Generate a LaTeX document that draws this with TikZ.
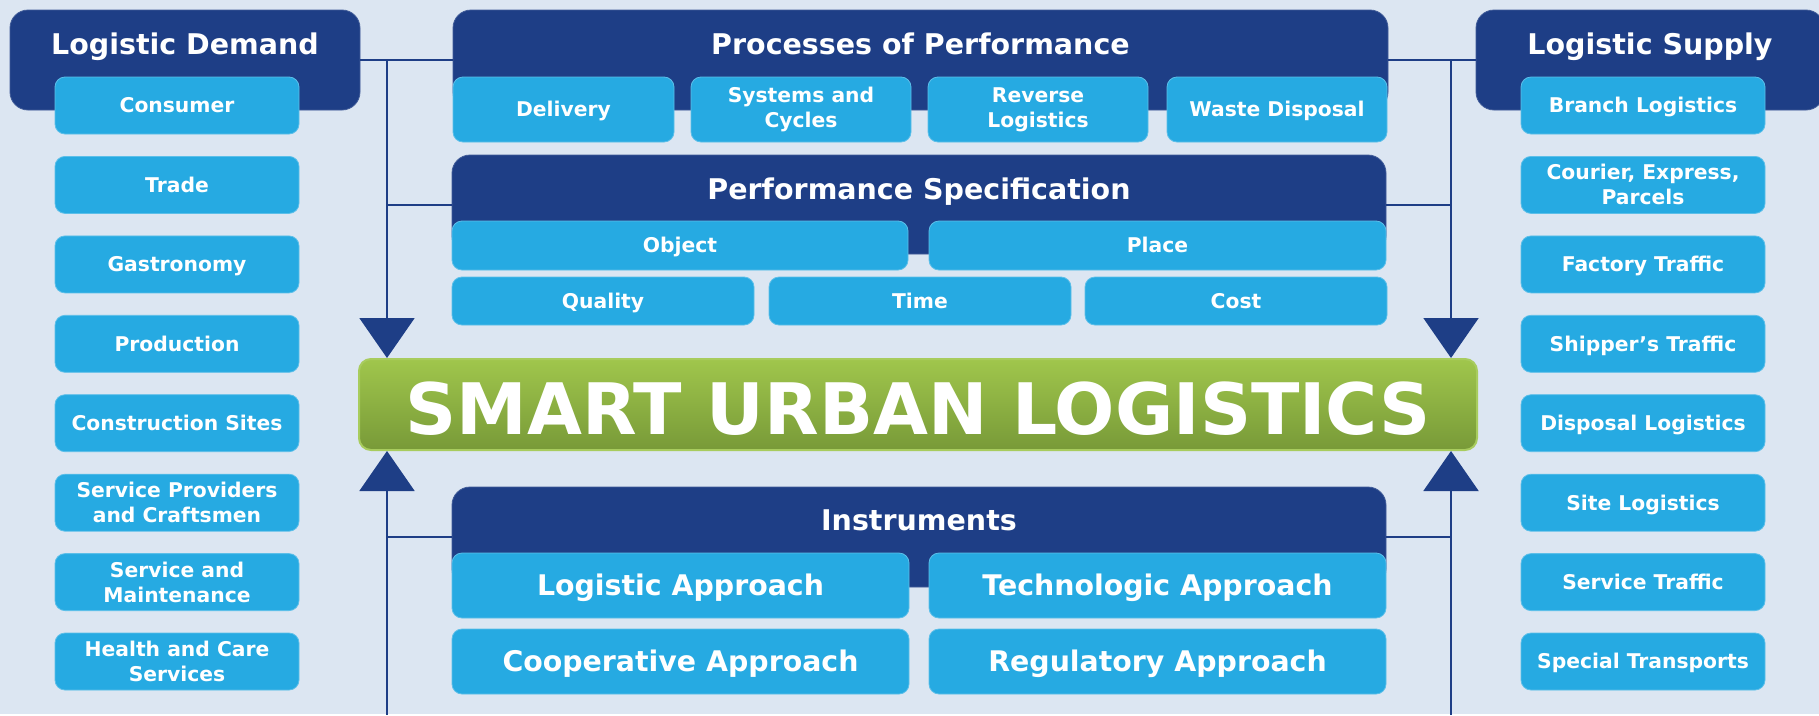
\documentclass[tikz,border=0pt]{standalone}
\usepackage{fontspec}
\setmainfont{DejaVu Sans}
\usetikzlibrary{arrows.meta}
\definecolor{navy}{RGB}{30,62,134}
\definecolor{lblue}{RGB}{38,170,226}
\definecolor{bg}{RGB}{220,230,242}
\definecolor{gtop}{RGB}{160,198,76}
\definecolor{gbot}{RGB}{120,154,56}
\definecolor{gedge}{RGB}{168,204,94}
\begin{document}
\begin{tikzpicture}[x=1pt,y=-1pt,
  darkbox/.style={fill=navy,draw=navy!85!white,line width=0.8pt,rounded corners=18pt,inner sep=0pt},
  lbox/.style={fill=lblue,draw=lblue!75!white,line width=0.8pt,rounded corners=10pt,inner sep=0pt,text=white,align=center,font=\fontsize{20.3}{25}\selectfont\bfseries},
  one/.style={text height=14.8pt,text depth=0pt},
  bigbox/.style={lbox,font=\fontsize{28.4}{34}\selectfont\bfseries,text height=20.7pt,text depth=0pt},
  ttl/.style={text=white,inner sep=0pt,anchor=base,font=\fontsize{28.5}{34}\selectfont\bfseries},
  conn/.style={draw=navy,line width=2pt},
  tip/.style={-{Triangle[width=55pt,length=40pt]}},
  col/.style={lbox,minimum width=244pt,minimum height=57pt}
]
\useasboundingbox (0,0) rectangle (1819,715);
\fill[white] (0,0) rectangle (1819,715);
\fill[bg] (0,0) rectangle (1819,714);

% dark boxes
\node[darkbox,minimum width=350pt,minimum height=100pt] (dem) at (185,60) {};
\node[ttl] (demt) at (185,54) {Logistic Demand};
\node[darkbox,minimum width=348pt,minimum height=100pt] (sup) at (1650,60) {};
\node[ttl] (supt) at (1650,54) {Logistic Supply};
\node[darkbox,minimum width=935pt,minimum height=100pt] (proc) at (920.5,60) {};
\node[ttl] (proct) at (920.5,54) {Processes of Performance};
\node[darkbox,minimum width=934pt,minimum height=99pt] (spec) at (919,204.5) {};
\node[ttl] (spect) at (919,199) {Performance Specification};
\node[darkbox,minimum width=934pt,minimum height=100pt] (instr) at (919,537) {};
\node[ttl] (instrt) at (919,530) {Instruments};

% connector end points
\coordinate (jLtop) at (387,60);
\coordinate (jRtop) at (1451,60);
\coordinate (jLbot) at (387,715);
\coordinate (jRbot) at (1451,715);

% green bar
\node[draw=gedge,line width=2pt,rounded corners=12pt,top color=gtop,bottom color=gbot,minimum width=1118pt,minimum height=91pt,inner sep=0pt] (bar) at (918,404.5) {};
\node[text=white,inner sep=0pt,anchor=base,font=\fontsize{71}{80}\selectfont\bfseries] (bartxt) at (918,434) {SMART URBAN LOGISTICS};

\draw[conn] (dem.east) -- (proc.west);
\draw[conn] (proc.east) -- (sup.west);
\draw[conn] (spec.west) -- (spec.west -| jLtop);
\draw[conn] (spec.east) -- (spec.east -| jRtop);
\draw[conn] (instr.west) -- (instr.west -| jLbot);
\draw[conn] (instr.east) -- (instr.east -| jRbot);
\draw[conn,tip,fill=navy] (jLtop) -- (bar.north -| jLtop);
\draw[conn,tip,fill=navy] (jRtop) -- (bar.north -| jRtop);
\draw[conn,tip,fill=navy] (jLbot) -- (bar.south -| jLbot);
\draw[conn,tip,fill=navy] (jRbot) -- (bar.south -| jRbot);

% processes
\node[lbox,one,minimum width=221pt,minimum height=65pt] (deliv) at (563.5,109.5) {Delivery};
\node[lbox,minimum width=220pt,minimum height=65pt] (sys) at (801,109.5) {Systems and\\Cycles};
\node[lbox,minimum width=220pt,minimum height=65pt] (rev) at (1038,109.5) {Reverse\\Logistics};
\node[lbox,one,minimum width=220pt,minimum height=65pt] (waste) at (1277,109.5) {Waste Disposal};

% specification
\node[lbox,one,minimum width=456pt,minimum height=49pt] (obj) at (680,245.5) {Object};
\node[lbox,one,minimum width=457pt,minimum height=49pt] (place) at (1157.5,245.5) {Place};
\node[lbox,one,minimum width=302pt,minimum height=48pt] (qual) at (603,301) {Quality};
\node[lbox,one,minimum width=302pt,minimum height=48pt] (time) at (920,301) {Time};
\node[lbox,one,minimum width=302pt,minimum height=48pt] (cost) at (1236,301) {Cost};

% instruments
\node[bigbox,minimum width=457pt,minimum height=65pt] (logap) at (680.5,585.5) {Logistic Approach};
\node[bigbox,minimum width=457pt,minimum height=65pt] (techap) at (1157.5,585.5) {Technologic Approach};
\node[bigbox,minimum width=457pt,minimum height=65pt] (coopap) at (680.5,661.5) {Cooperative Approach};
\node[bigbox,minimum width=457pt,minimum height=65pt] (regap) at (1157.5,661.5) {Regulatory Approach};

% left column
\node[col,one] (L0) at (177,105.5) {Consumer};
\node[col,one] (L1) at (177,184.9) {Trade};
\node[col,one] (L2) at (177,264.4) {Gastronomy};
\node[col,one] (L3) at (177,343.8) {Production};
\node[col,one] (L4) at (177,423.2) {Construction Sites};
\node[col] (L5) at (177,502.7) {Service Providers\\and Craftsmen};
\node[col] (L6) at (177,582.1) {Service and\\Maintenance};
\node[col] (L7) at (177,661.5) {Health and Care\\Services};

% right column
\node[col,one] (R0) at (1643,105.5) {Branch Logistics};
\node[col] (R1) at (1643,184.9) {Courier, Express,\\Parcels};
\node[col,one] (R2) at (1643,264.4) {Factory Traffic};
\node[col,one] (R3) at (1643,343.8) {Shipper’s Traffic};
\node[col,one] (R4) at (1643,423.2) {Disposal Logistics};
\node[col,one] (R5) at (1643,502.7) {Site Logistics};
\node[col,one] (R6) at (1643,582.1) {Service Traffic};
\node[col,one] (R7) at (1643,661.5) {Special Transports};
\end{tikzpicture}
\end{document}
